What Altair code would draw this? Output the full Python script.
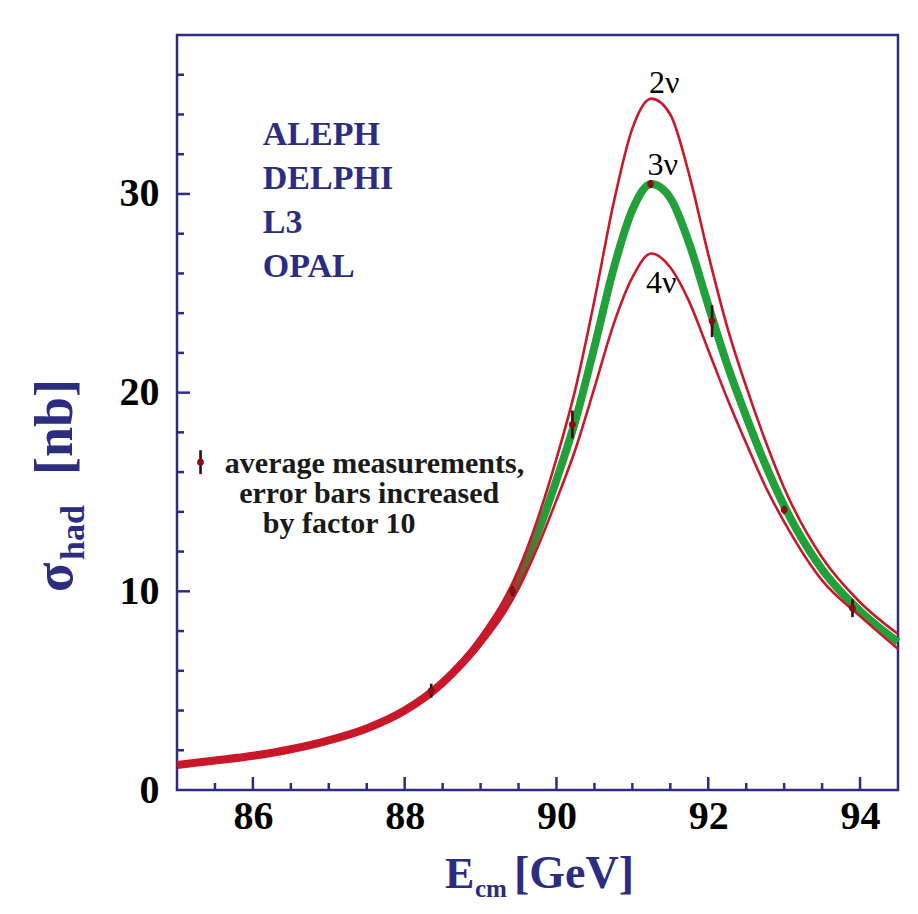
import altair as alt
import pandas as pd

# ---------------- data ----------------
E_grid = [85, 85.5, 86, 86.5, 87, 87.5, 88, 88.5, 89, 89.5, 89.75, 90, 90.25,
          90.5, 90.75, 91, 91.25, 91.5, 91.75, 92, 92.25, 92.5, 92.75, 93,
          93.5, 94, 94.5]
sigma_2nu = [1.27, 1.49, 1.73, 2.07, 2.53, 3.14, 4.07, 5.52, 7.74, 11.08, 13.62,
             16.68, 20.19, 24.64, 29.49, 33.3, 34.8, 34.0, 30.95, 26.96, 23.3,
             20.3, 17.6, 15.2, 11.7, 9.45, 7.85]
sigma_3nu = [1.26, 1.48, 1.72, 2.05, 2.5, 3.1, 4.0, 5.4, 7.5, 10.6, 12.9, 15.6,
             18.6, 22.3, 26.2, 29.2, 30.5, 29.8, 27.5, 24.4, 21.4, 18.8, 16.4,
             14.3, 11.1, 9.0, 7.45]
sigma_4nu = [1.25, 1.47, 1.71, 2.03, 2.47, 3.06, 3.93, 5.28, 7.26, 10.13, 12.21,
             14.59, 17.15, 20.24, 23.41, 25.8, 27.0, 26.3, 24.57, 22.15, 19.7,
             17.45, 15.3, 13.5, 10.55, 8.75, 7.1]

meas_E = [88.35, 89.42, 90.21, 91.24, 92.05, 93.0, 93.9]
meas_sigma = [5.0, 10.0, 18.4, 30.5, 23.6, 14.1, 9.15]
meas_err_x10 = [0.35, 0.25, 0.7, 0.2, 0.8, 0.2, 0.45]

x_major = [86, 88, 90, 92, 94]
x_minor = [85.5, 86.5, 87, 87.5, 88.5, 89, 89.5, 90.5, 91, 91.5, 92.5, 93, 93.5]
y_major = [10, 20, 30]
y_minor = [2, 4, 6, 8, 12, 14, 16, 18, 22, 24, 26, 28, 32, 34, 36]

experiments = ["ALEPH", "DELPHI", "L3", "OPAL"]
exp_E = [86.13, 86.13, 86.13, 86.13]
exp_sigma = [32.46, 30.24, 28.03, 25.82]

nu_labels = ["2\u03bd", "3\u03bd", "4\u03bd"]
nu_E = [91.42, 91.40, 91.38]
nu_sigma = [35.1, 30.95, 25.0]

legend_lines = ["average measurements,", "error bars increased", "by factor 10"]
legend_E = [85.63, 85.82, 86.13]
legend_sigma = [15.95, 14.44, 12.93]
legend_sym_E = [85.31]
legend_sym_sigma = [16.5]
legend_sym_err = [0.6]

# ---------------- style ----------------
NAVY = "#2c2c80"
RED = "#c8182a"
GREEN = "#22a03a"
DOT = "#8a0c16"
SERIF = "Liberation Serif"
W, H = 721, 755

xs = alt.Scale(domain=[85, 94.5], nice=False, zero=False)
ys = alt.Scale(domain=[0, 38], nice=False, zero=False)

xaxis = alt.Axis(values=x_major, title=None, ticks=False, domain=False, grid=False,
                 labelFont=SERIF, labelFontSize=40, labelFontWeight="bold",
                 labelColor="black", labelPadding=6, format="d")
yaxis = alt.Axis(values=[0] + y_major, title=None, ticks=False, domain=False, grid=False,
                 labelFont=SERIF, labelFontSize=40, labelFontWeight="bold",
                 labelColor="black", labelPadding=18, format="d")

curves = pd.DataFrame({"E": E_grid, "s2": sigma_2nu, "s3": sigma_3nu, "s4": sigma_4nu})

band_colour = alt.LinearGradient(
    gradient="linear", x1=0, x2=1, y1=0, y2=0,
    stops=[alt.GradientStop(color=RED, offset=0),
           alt.GradientStop(color=RED, offset=0.45),
           alt.GradientStop(color=GREEN, offset=0.51),
           alt.GradientStop(color=GREEN, offset=1)])

green = alt.Chart(curves).mark_line(color=band_colour, strokeWidth=8, interpolate="monotone").encode(
    x=alt.X("E:Q", scale=xs, axis=xaxis), y=alt.Y("s3:Q", scale=ys, axis=yaxis))
red2 = alt.Chart(curves).mark_line(color=RED, strokeWidth=2.6, interpolate="monotone").encode(
    x=alt.X("E:Q", scale=xs), y=alt.Y("s2:Q", scale=ys))
red4 = alt.Chart(curves).mark_line(color=RED, strokeWidth=2.6, interpolate="monotone").encode(
    x=alt.X("E:Q", scale=xs), y=alt.Y("s4:Q", scale=ys))

meas = pd.DataFrame({"E": meas_E, "s": meas_sigma,
                     "lo": [s - e for s, e in zip(meas_sigma, meas_err_x10)],
                     "hi": [s + e for s, e in zip(meas_sigma, meas_err_x10)]})
errbars = alt.Chart(meas).mark_rule(color="#3a0a10", strokeWidth=2.6).encode(
    x=alt.X("E:Q", scale=xs), y=alt.Y("lo:Q", scale=ys), y2="hi:Q")
points = alt.Chart(meas).mark_point(filled=True, shape="circle", size=45, color=DOT, opacity=1).encode(
    x=alt.X("E:Q", scale=xs), y=alt.Y("s:Q", scale=ys))

# ticks pointing into the frame
xt_major = alt.Chart(pd.DataFrame({"E": x_major})).mark_rule(color=NAVY, strokeWidth=2.5).encode(
    x=alt.X("E:Q", scale=xs), y=alt.value(H), y2=alt.value(H - 13))
xt_minor = alt.Chart(pd.DataFrame({"E": x_minor})).mark_rule(color=NAVY, strokeWidth=2.5).encode(
    x=alt.X("E:Q", scale=xs), y=alt.value(H), y2=alt.value(H - 7))
yt_major = alt.Chart(pd.DataFrame({"s": y_major})).mark_rule(color=NAVY, strokeWidth=2.5).encode(
    y=alt.Y("s:Q", scale=ys), x=alt.value(0), x2=alt.value(13))
yt_minor = alt.Chart(pd.DataFrame({"s": y_minor})).mark_rule(color=NAVY, strokeWidth=2.5).encode(
    y=alt.Y("s:Q", scale=ys), x=alt.value(0), x2=alt.value(7))

exp_text = alt.Chart(pd.DataFrame({"E": exp_E, "s": exp_sigma, "t": experiments})).mark_text(
    align="left", baseline="alphabetic", font=SERIF, fontSize=34, fontWeight="bold", color=NAVY).encode(
    x=alt.X("E:Q", scale=xs), y=alt.Y("s:Q", scale=ys), text="t:N")
nu_text = alt.Chart(pd.DataFrame({"E": nu_E, "s": nu_sigma, "t": nu_labels})).mark_text(
    align="center", baseline="alphabetic", font=SERIF, fontSize=32, color="black").encode(
    x=alt.X("E:Q", scale=xs), y=alt.Y("s:Q", scale=ys), text="t:N")
leg_text = alt.Chart(pd.DataFrame({"E": legend_E, "s": legend_sigma, "t": legend_lines})).mark_text(
    align="left", baseline="alphabetic", font=SERIF, fontSize=30, fontWeight="bold", color="#1a1a1a").encode(
    x=alt.X("E:Q", scale=xs), y=alt.Y("s:Q", scale=ys), text="t:N")
leg_df = pd.DataFrame({"E": legend_sym_E, "s": legend_sym_sigma,
                       "lo": [legend_sym_sigma[0] - legend_sym_err[0]],
                       "hi": [legend_sym_sigma[0] + legend_sym_err[0]]})
leg_bar = alt.Chart(leg_df).mark_rule(color="#3a0a10", strokeWidth=2.6).encode(
    x=alt.X("E:Q", scale=xs), y=alt.Y("lo:Q", scale=ys), y2="hi:Q")
leg_pt = alt.Chart(leg_df).mark_point(filled=True, shape="circle", size=45, color=DOT, opacity=1).encode(
    x=alt.X("E:Q", scale=xs), y=alt.Y("s:Q", scale=ys))

# axis titles with subscripts
def label(text, x, y, size, angle=0):
    return alt.Chart(pd.DataFrame({"t": [text]})).mark_text(
        align="left", baseline="alphabetic", font=SERIF, fontSize=size, fontWeight="bold",
        color=NAVY, angle=angle).encode(text="t:N", x=alt.value(x), y=alt.value(y))

titles = [
    label("E", 268, 853, 44),
    label("cm", 298, 862, 25),
    label("[GeV]", 337, 853, 46),
    label("\u03c3", -105, 557, 54, 270),
    label("had", -93, 525, 34, 270),
    label("[nb]", -105, 440, 54, 270),
]

chart = alt.layer(
    green, red2, red4, errbars, points,
    xt_major, xt_minor, yt_major, yt_minor,
    exp_text, nu_text, leg_text, leg_bar, leg_pt, *titles
).properties(
    width=W, height=H,
    autosize=alt.AutoSizeParams(type="none"),
    padding={"left": 169, "top": 27, "right": 12, "bottom": 116},
    background="white",
).configure_view(stroke=NAVY, strokeWidth=2.5)

chart.save("out.html", embed_options={"renderer": "svg", "actions": False})
